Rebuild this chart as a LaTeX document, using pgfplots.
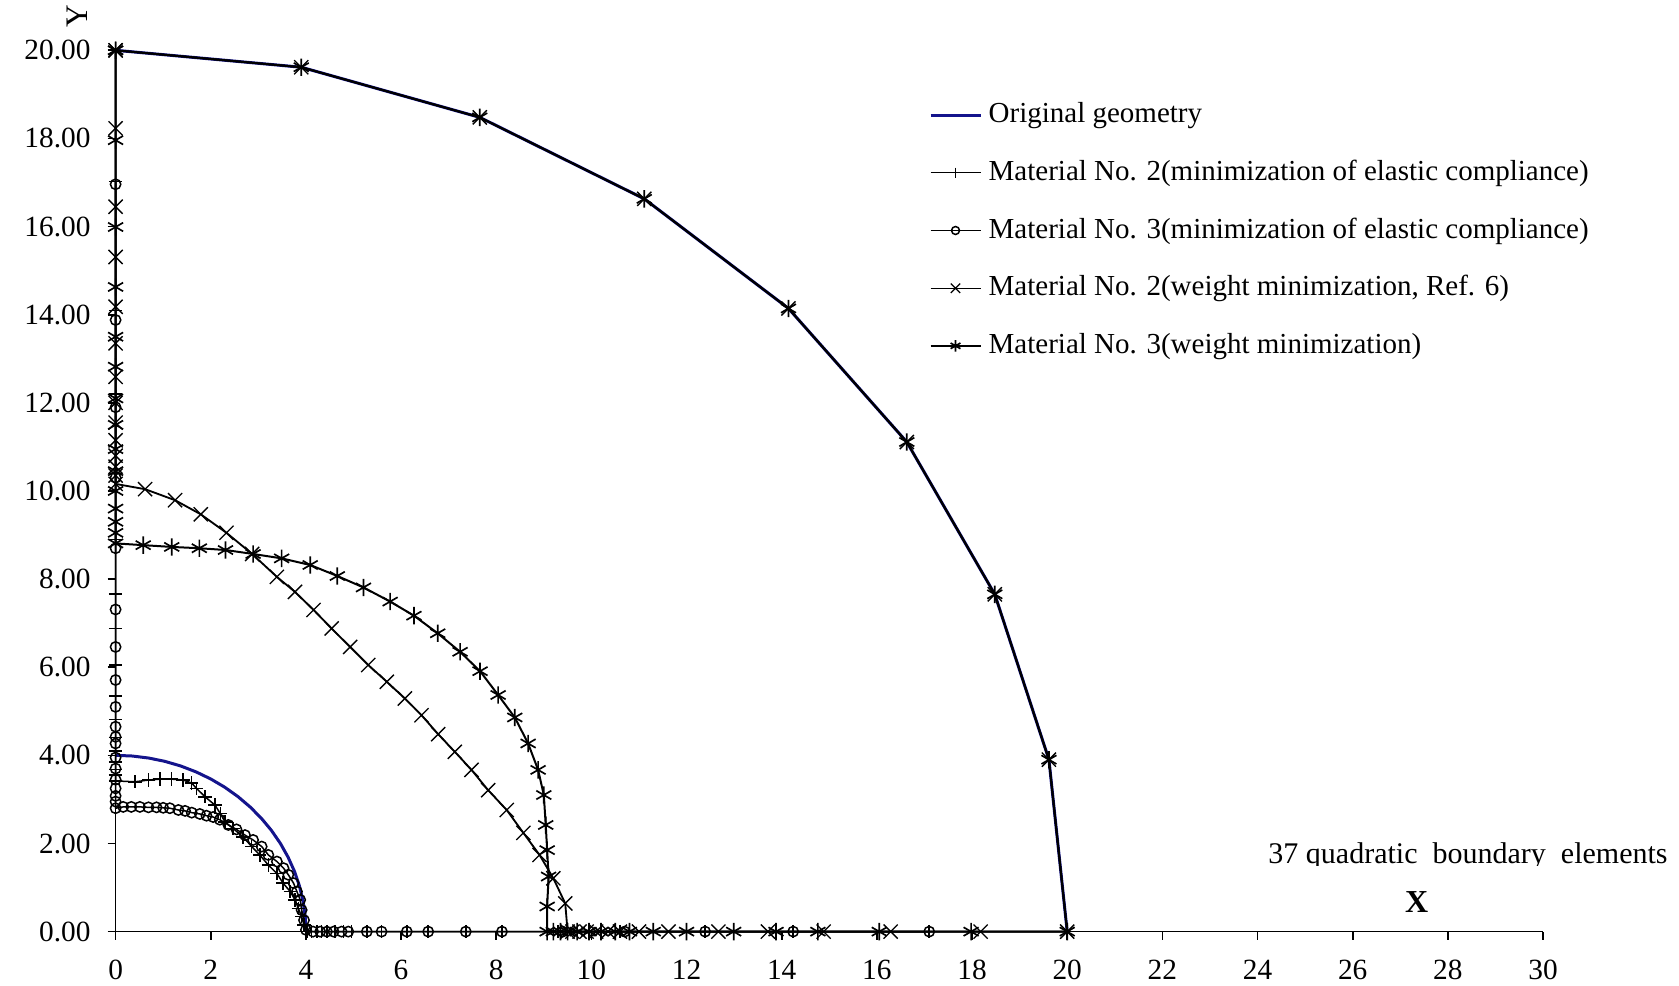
\documentclass[border=0pt]{standalone}
\usepackage{fontspec}
\setmainfont{Liberation Serif}
\usepackage{pgfplots}
\pgfplotsset{compat=1.18}
\definecolor{navy}{RGB}{20,20,140}
\begin{document}
\begin{tikzpicture}
\path[use as bounding box] (0,0) rectangle (503.7pt,295.5pt);
\begin{axis}[
  at={(34.68pt,16.02pt)}, anchor=south west,
  scale only axis, width=428.22pt, height=264.39pt,
  xmin=0, xmax=30, ymin=0, ymax=20,
  axis lines=left, axis line style={-, line width=0.5pt},
  xtick={0,2,...,30}, ytick={0,2,...,20},
  tick align=outside, major tick length=2.4pt,
  tick style={black, line width=0.5pt},
  /pgf/number format/assume math mode=true,
  yticklabel style={/pgf/number format/fixed, /pgf/number format/fixed zerofill, /pgf/number format/precision=2, xshift=-1.6pt},
  xticklabel style={yshift=-2.6pt},
  ticklabel style={font=\fontsize{8.8}{10}\selectfont},
  clip=false,
  unbounded coords=jump,
  legend cell align=left,
  legend image code/.code={\draw[mark repeat=2,mark phase=2,#1] plot coordinates {(0pt,0pt) (7.5pt,0pt) (15pt,0pt)};},
  legend style={draw=none, fill=none, inner sep=0pt, font=\fontsize{8.7}{10}\selectfont,
    at={(0.5694,0.949)}, anchor=north west, row sep=5.7pt},
]
% Original geometry
\addplot[navy, line width=0.9pt, mark=none] coordinates {
(0,4) (0.349,3.985) (0.695,3.939) (1.035,3.864) (1.368,3.759) (1.690,3.625) (2.000,3.464)
(2.294,3.277) (2.571,3.064) (2.828,2.828) (3.064,2.571) (3.277,2.294) (3.464,2.000)
(3.625,1.690) (3.759,1.368) (3.864,1.035) (3.939,0.695) (3.985,0.349) (4,0)
(nan,nan)
(20,0) (19.616,3.902) (18.478,7.654) (16.629,11.111) (14.142,14.142) (11.111,16.629)
(7.654,18.478) (3.902,19.616) (0,20)
};
\addlegendentry{Original geometry}
% Material No. 2 (compliance)
\addplot[black, line width=0.45pt, mark=+, mark size=2.0pt, mark options={solid,line width=0.45pt},
  legend image post style={mark size=1.5pt, line width=0.4pt}] coordinates {
(0,17.02) (0,14.1) (0,12.2) (0,10.4) (0,8.9) (0,7.66) (0,6.88) (0,6.05) (0,5.35) (0,4.81)
(0,4.4) (0,4.1) (0,3.85) (0,3.68) (0,3.55) (0,3.42)
(0.41,3.40) (0.69,3.44) (0.93,3.46) (1.18,3.46) (1.42,3.44) (1.60,3.37) (1.70,3.25) (1.88,3.06)
(2.09,2.87) (2.20,2.68) (2.30,2.49) (2.47,2.34) (2.68,2.15) (2.86,1.93) (3.03,1.74) (3.21,1.51)
(3.39,1.32) (3.52,1.10) (3.67,0.91) (3.77,0.72) (3.84,0.53) (3.91,0.34) (3.96,0.15) (4.02,0)
(4.12,0) (4.23,0) (4.33,0) (4.44,0) (4.61,0) (4.79,0) (4.96,0) (5.28,0) (5.59,0) (6.12,0)
(6.57,0) (7.36,0) (8.12,0) (9.3,0) (10.6,0) (12.39,0) (14.24,0) (17.1,0)
};
\addlegendentry{Material No. 2(minimization of elastic compliance)}
% Material No. 3 (compliance)
\addplot[black, line width=0.45pt, mark=o, mark size=1.55pt, mark options={solid,line width=0.45pt},
  legend image post style={mark size=1.2pt, line width=0.4pt}] coordinates {
(0,16.96) (0,13.88) (0,11.9) (0,10.3) (0,8.7) (0,7.31) (0,6.46) (0,5.71) (0,5.10) (0,4.65)
(0,4.42) (0,4.27) (0,3.95) (0,3.7) (0,3.45) (0,3.25) (0,3.08) (0,2.95) (0,2.80)
(0.16,2.83) (0.33,2.83) (0.51,2.83) (0.69,2.82) (0.86,2.82) (1.00,2.81) (1.14,2.80) (1.32,2.76)
(1.46,2.74) (1.60,2.70) (1.77,2.67) (1.91,2.63) (2.05,2.60) (2.19,2.54) (2.37,2.42) (2.54,2.32)
(2.72,2.19) (2.89,2.08) (3.07,1.93) (3.21,1.74) (3.39,1.59) (3.53,1.44) (3.63,1.29) (3.74,1.10)
(3.81,0.91) (3.88,0.72) (3.91,0.49) (3.96,0.26) (4.00,0.04)
(4.15,0) (4.30,0) (4.44,0) (4.58,0) (4.75,0) (4.89,0) (5.28,0) (5.59,0) (6.12,0) (6.57,0)
(7.36,0) (8.12,0) (9.4,0) (10.7,0) (12.39,0) (14.24,0) (17.1,0)
};
\addlegendentry{Material No. 3(minimization of elastic compliance)}
% Material No. 2 (weight)
\addplot[black, line width=0.55pt, mark=x, mark size=3.0pt, mark options={solid,line width=0.4pt},
  legend image post style={mark size=2.0pt, line width=0.4pt}] coordinates {
(0,20) (0,18.23) (0,16.45) (0,15.31) (0,14.18) (0,13.35) (0,12.59) (0,12.0) (0,11.55) (0,11.15)
(0,10.8) (0,10.55) (0,10.35) (0,10.16)
(0.62,10.04) (1.25,9.79) (1.79,9.47) (2.33,9.05) (2.87,8.57) (3.39,8.05) (3.77,7.71) (4.16,7.30)
(4.54,6.88) (4.93,6.46) (5.31,6.05) (5.70,5.67) (6.08,5.29) (6.43,4.91) (6.78,4.48) (7.13,4.08)
(7.48,3.67) (7.83,3.21) (8.22,2.76) (8.57,2.24) (8.91,1.74) (9.20,1.21) (9.45,0.64) (9.50,0)
(9.6,0) (9.75,0) (9.9,0) (10.1,0) (10.35,0) (10.6,0) (11.0,0) (11.62,0) (12.67,0) (13.71,0)
(14.88,0) (16.29,0) (18.18,0) (20,0)
(19.616,3.902) (18.478,7.654) (16.629,11.111) (14.142,14.142) (11.111,16.629) (7.654,18.478)
(3.902,19.616) (0,20)
};
\addlegendentry{Material No. 2(weight minimization, Ref. 6)}
% Material No. 3 (weight)
\addplot[black, line width=0.6pt, mark=asterisk, mark size=2.6pt, mark options={solid,line width=0.5pt},
  legend image post style={mark size=1.7pt, line width=0.4pt}] coordinates {
(0,20) (0,17.96) (0,15.99) (0,14.63) (0,13.5) (0,12.82) (0,12.1) (0,11.5) (0,10.95) (0,10.45)
(0,10.0) (0,9.6) (0,9.3) (0,9.05) (0,8.81)
(0.58,8.77) (1.18,8.73) (1.76,8.70) (2.31,8.66) (2.89,8.57) (3.49,8.47) (4.09,8.32) (4.66,8.07)
(5.21,7.81) (5.77,7.49) (6.27,7.17) (6.77,6.77) (7.24,6.35) (7.66,5.91) (8.04,5.37) (8.39,4.86)
(8.67,4.27) (8.88,3.67) (9.00,3.10) (9.04,2.42) (9.07,1.85) (9.10,1.25) (9.07,0.57) (9.07,0)
(9.2,0) (9.35,0) (9.5,0) (9.7,0) (9.95,0) (10.2,0) (10.5,0) (10.8,0) (11.3,0) (12.0,0)
(12.99,0) (13.88,0) (14.76,0) (16.05,0) (17.98,0) (20,0)
(19.616,3.902) (18.478,7.654) (16.629,11.111) (14.142,14.142) (11.111,16.629) (7.654,18.478)
(3.902,19.616) (0,20)
};
\addlegendentry{Material No. 3(weight minimization)}
\end{axis}
\node[rotate=90, font=\fontsize{9.4}{10}\selectfont] at (23.25pt,290.7pt) {Y};
\node[font=\bfseries\fontsize{9.6}{11}\selectfont] at (425.0pt,25.0pt) {X};
\begin{scope}
\clip (370pt,36.0pt) rectangle (503.7pt,60pt);
\node[anchor=base, inner sep=0pt, font=\fontsize{9}{10}\selectfont] at (440.4pt,36.6pt) {37 quadratic\hspace{0.5em}boundary\hspace{0.5em}elements};
\end{scope}
\end{tikzpicture}
\end{document}
